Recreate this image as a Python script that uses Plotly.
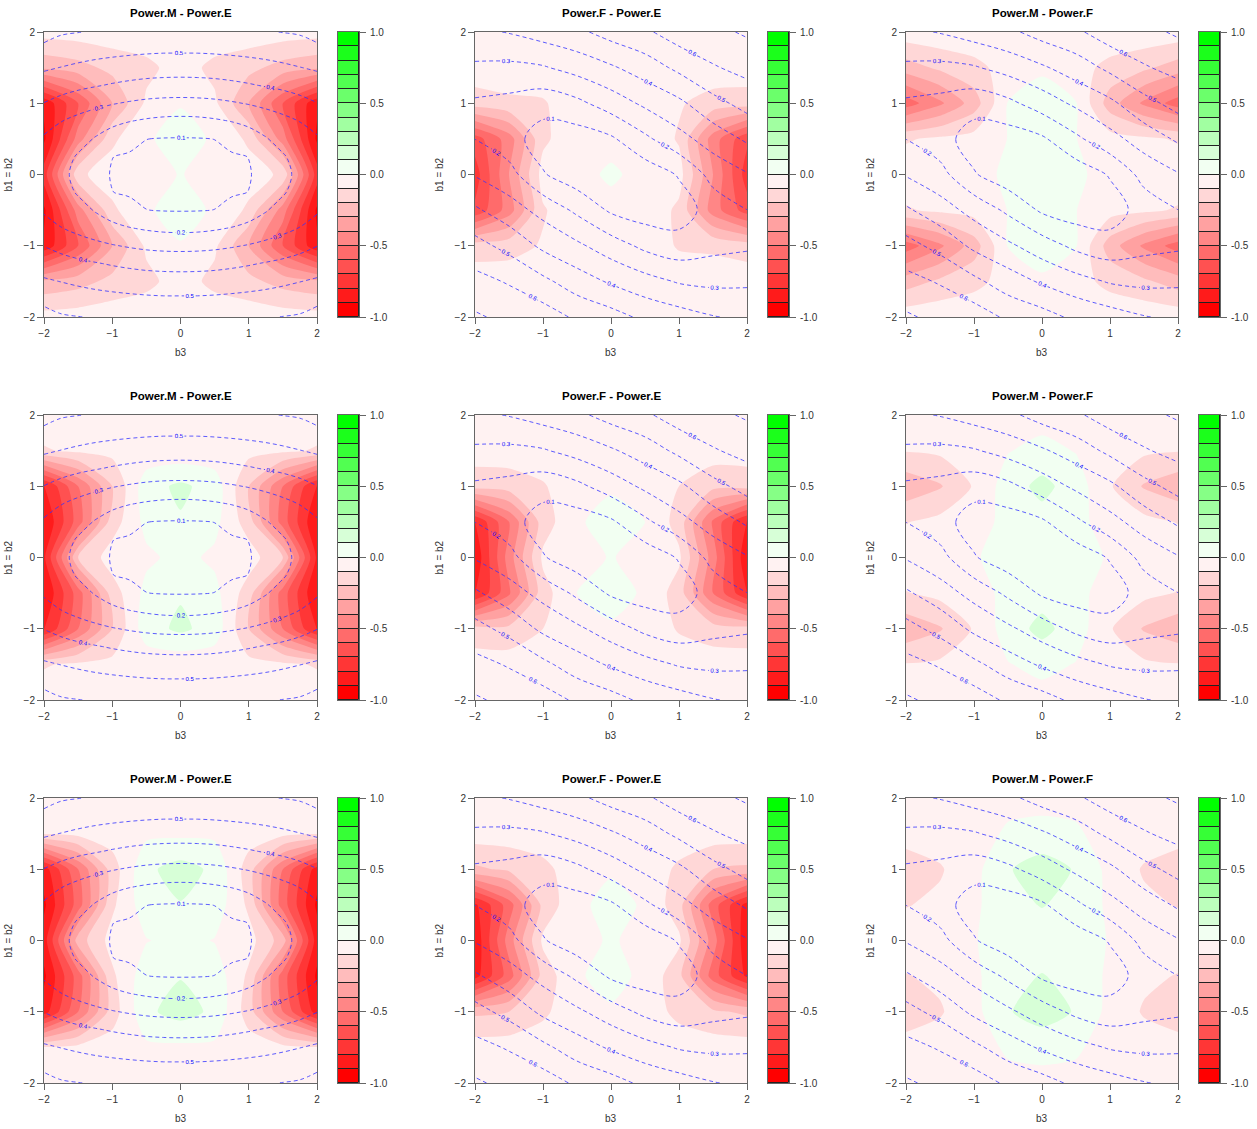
import plotly.graph_objects as go

# ---------------- data ----------------
B3 = [-2.0, -1.5, -1.0, -0.5, 0.0, 0.5, 1.0, 1.5, 2.0]          # x grid (coarse)
B12 = [2.0, 1.5, 1.0, 0.5, 0.0, -0.5, -1.0, -1.5, -2.0]          # y grid (rows top -> bottom)
B3_FINE = [-2.0, -1.75, -1.5, -1.25, -1.0, -0.75, -0.5, -0.25, 0.0,
           0.25, 0.5, 0.75, 1.0, 1.25, 1.5, 1.75, 2.0]
B12_FINE = [2.0, 1.75, 1.5, 1.25, 1.0, 0.75, 0.5, 0.25, 0.0,
            -0.25, -0.5, -0.75, -1.0, -1.25, -1.5, -1.75, -2.0]
AXIS_TICKS = [-2, -1, 0, 1, 2]
LEVELS = [-1.0, -0.9, -0.8, -0.7, -0.6, -0.5, -0.4, -0.3, -0.2, -0.1, 0.0,
          0.1, 0.2, 0.3, 0.4, 0.5, 0.6, 0.7, 0.8, 0.9, 1.0]
CB_TICKS = [-1.0, -0.5, 0.0, 0.5, 1.0]
CB_TICK_TEXT = ["-1.0", "-0.5", "0.0", "0.5", "1.0"]
POWER_LEVELS = [0.1, 0.7]

TITLES = ["Power.M - Power.E", "Power.F - Power.E", "Power.M - Power.F"]

# power surface drawn as dashed contours (column 1), fine grid
POWER_COL1 = [
    [0.630, 0.610, 0.602, 0.594, 0.587, 0.582, 0.578, 0.576, 0.575, 0.576, 0.578, 0.582, 0.587, 0.594, 0.602, 0.610, 0.630],
    [0.580, 0.555, 0.544, 0.534, 0.527, 0.521, 0.516, 0.513, 0.513, 0.513, 0.516, 0.521, 0.527, 0.534, 0.544, 0.555, 0.580],
    [0.512, 0.498, 0.484, 0.472, 0.462, 0.454, 0.448, 0.444, 0.443, 0.444, 0.448, 0.454, 0.462, 0.472, 0.484, 0.498, 0.512],
    [0.454, 0.436, 0.420, 0.406, 0.392, 0.380, 0.370, 0.365, 0.363, 0.365, 0.370, 0.380, 0.392, 0.406, 0.420, 0.436, 0.454],
    [0.398, 0.371, 0.346, 0.325, 0.306, 0.291, 0.279, 0.272, 0.270, 0.272, 0.279, 0.291, 0.306, 0.325, 0.346, 0.371, 0.398],
    [0.333, 0.302, 0.273, 0.246, 0.222, 0.203, 0.188, 0.178, 0.175, 0.178, 0.188, 0.203, 0.222, 0.246, 0.273, 0.302, 0.333],
    [0.290, 0.273, 0.233, 0.194, 0.158, 0.126, 0.101, 0.096, 0.095, 0.096, 0.101, 0.126, 0.158, 0.194, 0.233, 0.273, 0.290],
    [0.270, 0.236, 0.191, 0.145, 0.101, 0.091, 0.082, 0.075, 0.073, 0.075, 0.082, 0.091, 0.101, 0.145, 0.191, 0.236, 0.270],
    [0.262, 0.223, 0.175, 0.126, 0.095, 0.084, 0.072, 0.061, 0.050, 0.061, 0.072, 0.084, 0.095, 0.126, 0.175, 0.223, 0.262],
    [0.270, 0.236, 0.191, 0.145, 0.101, 0.091, 0.082, 0.075, 0.073, 0.075, 0.082, 0.091, 0.101, 0.145, 0.191, 0.236, 0.270],
    [0.290, 0.273, 0.233, 0.194, 0.158, 0.126, 0.101, 0.096, 0.095, 0.096, 0.101, 0.126, 0.158, 0.194, 0.233, 0.273, 0.290],
    [0.333, 0.302, 0.273, 0.246, 0.222, 0.203, 0.188, 0.178, 0.175, 0.178, 0.188, 0.203, 0.222, 0.246, 0.273, 0.302, 0.333],
    [0.398, 0.371, 0.346, 0.325, 0.306, 0.291, 0.279, 0.272, 0.270, 0.272, 0.279, 0.291, 0.306, 0.325, 0.346, 0.371, 0.398],
    [0.454, 0.436, 0.420, 0.406, 0.392, 0.380, 0.370, 0.365, 0.363, 0.365, 0.370, 0.380, 0.392, 0.406, 0.420, 0.436, 0.454],
    [0.512, 0.498, 0.484, 0.472, 0.462, 0.454, 0.448, 0.444, 0.443, 0.444, 0.448, 0.454, 0.462, 0.472, 0.484, 0.498, 0.512],
    [0.580, 0.555, 0.544, 0.534, 0.527, 0.521, 0.516, 0.513, 0.513, 0.513, 0.516, 0.521, 0.527, 0.534, 0.544, 0.555, 0.580],
    [0.630, 0.610, 0.602, 0.594, 0.587, 0.582, 0.578, 0.576, 0.575, 0.576, 0.578, 0.582, 0.587, 0.594, 0.602, 0.610, 0.630],
]
# power surface drawn as dashed contours (columns 2 and 3), coarse grid
POWER_COL23 = [
    [0.380, 0.405, 0.443, 0.478, 0.539, 0.583, 0.651, 0.675, 0.713],
    [0.283, 0.277, 0.291, 0.337, 0.387, 0.448, 0.523, 0.591, 0.631],
    [0.185, 0.170, 0.139, 0.176, 0.248, 0.319, 0.379, 0.469, 0.534],
    [0.199, 0.140, 0.054, 0.050, 0.085, 0.180, 0.268, 0.344, 0.415],
    [0.293, 0.235, 0.108, 0.040, 0.040, 0.040, 0.108, 0.235, 0.293],
    [0.415, 0.344, 0.268, 0.180, 0.085, 0.050, 0.054, 0.140, 0.199],
    [0.534, 0.469, 0.379, 0.319, 0.248, 0.176, 0.139, 0.170, 0.185],
    [0.631, 0.591, 0.523, 0.448, 0.387, 0.337, 0.291, 0.277, 0.283],
    [0.713, 0.675, 0.651, 0.583, 0.539, 0.478, 0.443, 0.405, 0.380],
]

# power differences (filled contours), coarse grid
DIFF_R1C1 = [
    [-0.06, -0.05, -0.04, -0.03, -0.02, -0.03, -0.04, -0.05, -0.06],
    [-0.28, -0.24, -0.17, -0.13, -0.05, -0.13, -0.17, -0.24, -0.28],
    [-0.88, -0.60, -0.30, -0.08, -0.005, -0.08, -0.30, -0.60, -0.88],
    [-0.92, -0.45, -0.12, -0.01, 0.03, -0.01, -0.12, -0.45, -0.92],
    [-0.75, -0.12, -0.05, -0.04, 0.005, -0.04, -0.05, -0.12, -0.75],
    [-0.92, -0.45, -0.12, -0.01, 0.03, -0.01, -0.12, -0.45, -0.92],
    [-0.88, -0.60, -0.30, -0.08, -0.005, -0.08, -0.30, -0.60, -0.88],
    [-0.28, -0.24, -0.17, -0.13, -0.05, -0.13, -0.17, -0.24, -0.28],
    [-0.06, -0.05, -0.04, -0.03, -0.02, -0.03, -0.04, -0.05, -0.06],
]
DIFF_R1C2 = [
    [-0.04, -0.04, -0.03, -0.03, -0.03, -0.03, -0.03, -0.03, -0.04],
    [-0.04, -0.04, -0.04, -0.03, -0.03, -0.03, -0.04, -0.04, -0.04],
    [-0.15, -0.12, -0.11, -0.04, -0.03, -0.04, -0.09, -0.14, -0.15],
    [-0.65, -0.45, -0.12, -0.03, -0.02, -0.03, -0.11, -0.45, -0.68],
    [-0.75, -0.40, -0.06, -0.02, 0.01, -0.02, -0.06, -0.40, -0.75],
    [-0.68, -0.45, -0.11, -0.03, -0.02, -0.03, -0.12, -0.45, -0.65],
    [-0.15, -0.14, -0.09, -0.04, -0.03, -0.04, -0.11, -0.12, -0.15],
    [-0.04, -0.04, -0.04, -0.03, -0.03, -0.03, -0.04, -0.04, -0.04],
    [-0.04, -0.03, -0.03, -0.03, -0.03, -0.03, -0.03, -0.04, -0.04],
]
DIFF_R1C3 = [
    [-0.04, -0.03, -0.03, -0.03, -0.02, -0.03, -0.03, -0.03, -0.04],
    [-0.25, -0.18, -0.13, -0.06, -0.01, -0.06, -0.13, -0.18, -0.25],
    [-0.55, -0.42, -0.25, 0.005, 0.03, 0.005, -0.25, -0.42, -0.55],
    [-0.11, -0.08, -0.06, 0.002, 0.03, 0.002, -0.06, -0.08, -0.11],
    [-0.04, -0.02, -0.02, 0.01, 0.03, 0.01, -0.02, -0.02, -0.04],
    [-0.11, -0.08, -0.06, 0.002, 0.03, 0.002, -0.06, -0.08, -0.11],
    [-0.55, -0.42, -0.25, 0.005, 0.03, 0.005, -0.25, -0.42, -0.55],
    [-0.25, -0.18, -0.13, -0.06, -0.01, -0.06, -0.13, -0.18, -0.25],
    [-0.04, -0.03, -0.03, -0.03, -0.02, -0.03, -0.03, -0.03, -0.04],
]
DIFF_R2C1 = [
    [-0.04, -0.03, -0.03, -0.02, -0.02, -0.02, -0.03, -0.03, -0.04],
    [-0.11, -0.08, -0.07, -0.07, -0.07, -0.07, -0.07, -0.08, -0.11],
    [-0.82, -0.50, -0.20, 0.06, 0.12, 0.06, -0.20, -0.50, -0.82],
    [-0.90, -0.55, -0.15, 0.03, 0.09, 0.03, -0.15, -0.55, -0.90],
    [-0.82, -0.20, -0.05, -0.02, 0.03, -0.02, -0.05, -0.20, -0.82],
    [-0.90, -0.55, -0.15, 0.03, 0.09, 0.03, -0.15, -0.55, -0.90],
    [-0.82, -0.50, -0.20, 0.06, 0.12, 0.06, -0.20, -0.50, -0.82],
    [-0.11, -0.08, -0.07, -0.07, -0.07, -0.07, -0.07, -0.08, -0.11],
    [-0.04, -0.03, -0.03, -0.02, -0.02, -0.02, -0.03, -0.03, -0.04],
]
DIFF_R2C2 = [
    [-0.04, -0.04, -0.03, -0.03, -0.02, -0.03, -0.03, -0.04, -0.04],
    [-0.05, -0.05, -0.04, -0.03, -0.02, -0.03, -0.04, -0.05, -0.05],
    [-0.16, -0.15, -0.11, -0.03, -0.01, -0.02, -0.10, -0.17, -0.16],
    [-0.80, -0.50, -0.15, -0.01, 0.03, 0.00, -0.14, -0.52, -0.82],
    [-0.88, -0.45, -0.08, -0.03, 0.005, -0.03, -0.08, -0.45, -0.88],
    [-0.82, -0.52, -0.14, 0.00, 0.03, -0.01, -0.15, -0.50, -0.80],
    [-0.16, -0.17, -0.10, -0.02, -0.01, -0.03, -0.11, -0.15, -0.16],
    [-0.05, -0.05, -0.04, -0.03, -0.02, -0.03, -0.04, -0.05, -0.05],
    [-0.04, -0.04, -0.03, -0.03, -0.02, -0.03, -0.03, -0.04, -0.04],
]
DIFF_R2C3 = [
    [-0.04, -0.03, -0.03, -0.02, -0.04, -0.02, -0.03, -0.03, -0.04],
    [-0.095, -0.08, -0.05, -0.005, 0.03, -0.005, -0.05, -0.08, -0.095],
    [-0.27, -0.21, -0.09, 0.05, 0.13, 0.05, -0.09, -0.21, -0.27],
    [-0.105, -0.07, -0.03, 0.02, 0.06, 0.02, -0.03, -0.07, -0.105],
    [-0.03, -0.02, -0.01, 0.04, 0.04, 0.04, -0.01, -0.02, -0.03],
    [-0.105, -0.07, -0.03, 0.02, 0.06, 0.02, -0.03, -0.07, -0.105],
    [-0.27, -0.21, -0.09, 0.05, 0.13, 0.05, -0.09, -0.21, -0.27],
    [-0.095, -0.08, -0.05, -0.005, 0.03, -0.005, -0.05, -0.08, -0.095],
    [-0.04, -0.03, -0.03, -0.02, -0.04, -0.02, -0.03, -0.03, -0.04],
]
DIFF_R3C1 = [
    [-0.04, -0.03, -0.02, -0.01, -0.01, -0.01, -0.02, -0.03, -0.04],
    [-0.09, -0.07, -0.05, -0.02, -0.02, -0.02, -0.05, -0.07, -0.09],
    [-0.85, -0.50, -0.15, 0.08, 0.14, 0.08, -0.15, -0.50, -0.85],
    [-0.92, -0.55, -0.12, 0.06, 0.095, 0.06, -0.12, -0.55, -0.92],
    [-0.85, -0.25, -0.06, -0.005, 0.03, -0.005, -0.06, -0.25, -0.85],
    [-0.92, -0.55, -0.12, 0.06, 0.095, 0.06, -0.12, -0.55, -0.92],
    [-0.85, -0.50, -0.15, 0.08, 0.14, 0.08, -0.15, -0.50, -0.85],
    [-0.09, -0.07, -0.05, -0.02, -0.02, -0.02, -0.05, -0.07, -0.09],
    [-0.04, -0.03, -0.02, -0.01, -0.01, -0.01, -0.02, -0.03, -0.04],
]
DIFF_R3C2 = [
    [-0.04, -0.04, -0.03, -0.03, -0.02, -0.03, -0.03, -0.04, -0.04],
    [-0.05, -0.05, -0.04, -0.03, -0.02, -0.03, -0.04, -0.05, -0.05],
    [-0.22, -0.18, -0.13, -0.04, -0.01, -0.03, -0.12, -0.20, -0.22],
    [-0.82, -0.55, -0.17, -0.02, 0.03, -0.01, -0.16, -0.55, -0.84],
    [-0.88, -0.45, -0.08, -0.03, 0.01, -0.03, -0.08, -0.45, -0.88],
    [-0.84, -0.55, -0.16, -0.01, 0.03, -0.02, -0.17, -0.55, -0.82],
    [-0.22, -0.20, -0.12, -0.03, -0.01, -0.04, -0.13, -0.18, -0.22],
    [-0.05, -0.05, -0.04, -0.03, -0.02, -0.03, -0.04, -0.05, -0.05],
    [-0.04, -0.04, -0.03, -0.03, -0.02, -0.03, -0.03, -0.04, -0.04],
]
DIFF_R3C3 = [
    [-0.04, -0.03, -0.03, -0.02, -0.02, -0.02, -0.03, -0.03, -0.04],
    [-0.07, -0.05, -0.03, 0.01, 0.02, 0.01, -0.03, -0.05, -0.07],
    [-0.14, -0.11, -0.03, 0.09, 0.16, 0.09, -0.03, -0.11, -0.14],
    [-0.105, -0.08, -0.02, 0.07, 0.105, 0.07, -0.02, -0.08, -0.105],
    [-0.05, -0.03, -0.005, 0.04, 0.05, 0.04, -0.005, -0.03, -0.05],
    [-0.105, -0.08, -0.02, 0.07, 0.105, 0.07, -0.02, -0.08, -0.105],
    [-0.14, -0.11, -0.03, 0.09, 0.16, 0.09, -0.03, -0.11, -0.14],
    [-0.07, -0.05, -0.03, 0.01, 0.02, 0.01, -0.03, -0.05, -0.07],
    [-0.04, -0.03, -0.03, -0.02, -0.02, -0.02, -0.03, -0.03, -0.04],
]

DIFFS = [
    [DIFF_R1C1, DIFF_R1C2, DIFF_R1C3],
    [DIFF_R2C1, DIFF_R2C2, DIFF_R2C3],
    [DIFF_R3C1, DIFF_R3C2, DIFF_R3C3],
]
POWERS = [(B3_FINE, B12_FINE, POWER_COL1), (B3, B12, POWER_COL23), (B3, B12, POWER_COL23)]

# ---------------- style ----------------
COLORS = ["#FF0000", "#FF1B1B", "#FF3636", "#FF5151", "#FF6B6B", "#FF8686", "#FFA1A1",
          "#FFBCBC", "#FFD7D7", "#FFF2F2", "#F2FFF2", "#D7FFD7", "#BCFFBC", "#A1FFA1",
          "#86FF86", "#6BFF6B", "#51FF51", "#36FF36", "#1BFF1B", "#00FF00"]
# first stop is only used for the (empty) region below -1; bands use stops 1..20
COLORSCALE = [[0.0, "#FFFFFF"]] + [[(i + 1) / len(COLORS), c] for i, c in enumerate(COLORS)]

W, H = 1257, 1129
PLOT_X = [(44, 317), (475, 747), (906, 1178)]       # page pixels
CB_X = [(338, 359), (768, 789), (1199, 1220)]
ROW_Y = [(32, 317), (415, 700), (798, 1083)]
FONT = "Liberation Sans, Arial, Helvetica, sans-serif"
AXCOL = "#666666"
TXTCOL = "#333333"


def px(v):
    return v / W


def py(v):
    return 1 - v / H


fig = go.Figure()
layout = dict(template="none", width=W, height=H,
              margin=dict(l=0, r=0, t=0, b=0, pad=0, autoexpand=False),
              paper_bgcolor="white", plot_bgcolor="white", showlegend=False,
              font=dict(family=FONT, size=10, color=TXTCOL), annotations=[],
              bargap=0)

n = 0
for r in range(3):
    for c in range(3):
        ip = 2 * n + 1
        ic = 2 * n + 2
        xp, yp = f"x{ip}", f"y{ip}"
        xc, yc = f"x{ic}", f"y{ic}"
        xpn = "xaxis" if ip == 1 else f"xaxis{ip}"
        ypn = "yaxis" if ip == 1 else f"yaxis{ip}"
        xcn, ycn = f"xaxis{ic}", f"yaxis{ic}"
        ydom = [py(ROW_Y[r][1]), py(ROW_Y[r][0])]

        # filled difference contours
        fig.add_trace(go.Contour(
            x=B3, y=B12, z=DIFFS[r][c], xaxis=xp, yaxis=yp,
            autocontour=False,
            contours=dict(start=LEVELS[0], end=LEVELS[-2], size=0.1,
                          coloring="fill", showlines=False),
            line=dict(width=0, smoothing=0.6),
            colorscale=COLORSCALE,
            showscale=False, hoverinfo="skip"))

        # dashed power contours
        gx, gy, gz = POWERS[c]
        fig.add_trace(go.Contour(
            x=gx, y=gy, z=gz, xaxis=xp, yaxis=yp,
            autocontour=False,
            contours=dict(start=POWER_LEVELS[0], end=POWER_LEVELS[1], size=0.1,
                          coloring="none", showlabels=True, labelformat=".1f",
                          labelfont=dict(size=6, color="#0000FF", family=FONT)),
            line=dict(color="#3333FF", width=0.8, dash="4px,3px", smoothing=1.0),
            showscale=False, hoverinfo="skip"))

        # colour key
        fig.add_trace(go.Bar(
            x=[0] * (len(LEVELS) - 1),
            y=[LEVELS[i + 1] - LEVELS[i] for i in range(len(LEVELS) - 1)],
            base=LEVELS[:-1], width=1, xaxis=xc, yaxis=yc,
            marker=dict(color=COLORS, line=dict(color="#222222", width=1)),
            hoverinfo="skip", showlegend=False))

        common = dict(showgrid=False, zeroline=False, showline=True, linecolor=AXCOL,
                      linewidth=1, mirror=True, automargin=False)
        layout[xpn] = dict(domain=[px(PLOT_X[c][0]), px(PLOT_X[c][1])], range=[-2, 2],
                           anchor=yp, tickvals=AXIS_TICKS, ticks="outside", ticklen=6,
                           tickcolor=AXCOL, ticklabelstandoff=1,
                           tickfont=dict(size=10, color=TXTCOL), **common)
        layout[ypn] = dict(domain=ydom, range=[-2, 2], anchor=xp, tickvals=AXIS_TICKS,
                           ticks="outside", ticklen=6, tickcolor=AXCOL,
                           ticklabelstandoff=0,
                           tickfont=dict(size=10, color=TXTCOL), **common)
        layout[xcn] = dict(domain=[px(CB_X[c][0]), px(CB_X[c][1])], range=[-0.5, 0.5],
                           anchor=yc, showticklabels=False, ticks="", **common)
        layout[ycn] = dict(domain=ydom, range=[-1, 1], anchor=xc, side="right",
                           tickvals=CB_TICKS, ticktext=CB_TICK_TEXT, ticks="outside",
                           ticklen=6, tickcolor=AXCOL, ticklabelstandoff=2,
                           tickfont=dict(size=10, color=TXTCOL), **common)

        cx = px((PLOT_X[c][0] + PLOT_X[c][1]) / 2)
        layout["annotations"].append(dict(
            text=f"<b>{TITLES[c]}</b>", x=cx, y=py(ROW_Y[r][0] - 19), xref="paper",
            yref="paper", showarrow=False, xanchor="center", yanchor="middle",
            font=dict(size=11.5, color="black", family=FONT)))
        layout["annotations"].append(dict(
            text="b3", x=cx, y=py(ROW_Y[r][1] + 35), xref="paper", yref="paper",
            showarrow=False, xanchor="center", yanchor="middle",
            font=dict(size=10, color=TXTCOL, family=FONT)))
        layout["annotations"].append(dict(
            text="b1 = b2", x=px(PLOT_X[c][0] - 36),
            y=py((ROW_Y[r][0] + ROW_Y[r][1]) / 2), xref="paper", yref="paper",
            showarrow=False, xanchor="center", yanchor="middle", textangle=-90,
            font=dict(size=10, color=TXTCOL, family=FONT)))
        n += 1

fig.update_layout(**layout)
fig.write_html("out.html")
